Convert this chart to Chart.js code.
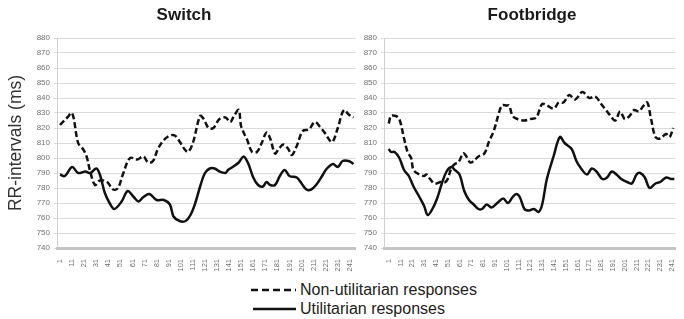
<!DOCTYPE html>
<html>
<head>
<meta charset="utf-8">
<script src="https://cdn.jsdelivr.net/npm/chart.js@4.4.1/dist/chart.umd.min.js"></script>
<style>
  html, body { margin: 0; padding: 0; background: #fff; }
  body { width: 684px; height: 319px; position: relative; overflow: hidden; font-family: "Liberation Sans", Arial, sans-serif; }
  canvas { position: absolute; top: 0; }
  .title { position: absolute; top: 5px; font-weight: bold; font-size: 17px; color: #1a1a1a; transform: translateX(-50%); white-space: nowrap; }
  .leg { position: absolute; font-size: 16px; color: #222; white-space: nowrap; line-height: 18px; }
  svg { position: absolute; }
</style>
</head>
<body>
<canvas id="c1" width="362" height="272" style="left:0px;width:362px;height:272px"></canvas>
<canvas id="c2" width="322" height="272" style="left:362px;width:322px;height:272px"></canvas>
<div class="title" style="left:184px">Switch</div>
<div class="title" style="left:532px">Footbridge</div>
<svg width="50" height="6" style="left:250px;top:287px"><line x1="1" y1="3" x2="46" y2="3" stroke="#111" stroke-width="2.5" stroke-dasharray="7,4"/></svg>
<div class="leg" style="left:300px;top:281px">Non-utilitarian responses</div>
<svg width="50" height="6" style="left:252px;top:306px"><line x1="1" y1="3" x2="44" y2="3" stroke="#111" stroke-width="2.5"/></svg>
<div class="leg" style="left:300px;top:300px">Utilitarian responses</div>
<script>
// ---- Data ----
const xTickLabels = [1, 11, 21, 31, 41, 51, 61, 71, 81, 91, 101, 111, 121, 131, 141, 151, 161, 171, 181, 191, 201, 211, 221, 231, 241];
const yTicks = [740, 750, 760, 770, 780, 790, 800, 810, 820, 830, 840, 850, 860, 870, 880];

const switchNonX = [1,7,11,16,20,23,26,30,34,40,45,49,53,59,65,70,74,78,82,87,92,96,100,104,107,111,117,120,124,128,133,138,142,145,149,151,156,160,164,168,172,175,179,182,186,190,193,197,202,207,212,216,220,225,227,231,236,240,244];
const switchNonY = [822,827,830,810,806,801,791,782,785,784,779,780,789,800,799,801,797,798,806,812,815,815,811,806,804,810,828,826,820,820,826,827,824,828,832,821,812,804,804,810,817,813,803,806,809,806,802,808,818,819,824,821,817,811,811,820,832,829,827];

const switchUtilX = [1,5,11,16,22,26,31,34,38,42,46,52,57,62,66,70,75,81,87,92,95,100,105,109,113,117,121,125,129,133,138,140,144,149,153,157,161,165,169,172,175,179,183,187,191,197,201,205,209,213,218,222,227,231,235,240,244];
const switchUtilY = [789,788,794,790,791,790,793,789,777,770,766,771,778,774,771,774,776,772,772,769,761,758,758,762,770,781,790,793,793,791,790,792,794,797,801,796,787,782,781,784,782,782,788,792,788,787,783,779,779,782,788,793,796,794,798,798,796];

const footNonX = [1,3,7,10,14,17,20,22,27,31,33,36,40,45,49,51,54,57,60,64,66,70,73,77,82,86,90,94,97,101,103,106,110,116,121,126,131,135,141,145,149,154,159,165,171,176,181,185,189,193,197,201,205,209,213,216,220,223,227,231,236,239,242];
const footNonY = [823,828,828,826,813,804,800,792,789,788,789,786,783,784,784,786,793,796,797,803,802,797,798,801,803,811,818,829,835,835,835,828,826,825,826,827,836,835,833,837,837,842,839,844,840,841,836,832,828,825,831,826,828,832,831,834,837,827,814,813,816,814,820];

const footUtilX = [1,3,6,10,14,18,22,27,31,34,38,42,46,50,54,57,61,65,69,73,77,80,84,88,93,98,102,106,109,112,116,120,124,128,131,135,141,146,150,156,160,164,169,173,177,182,186,190,194,198,203,207,211,214,218,222,227,231,236,240,243];
const footUtilY = [806,804,804,800,792,788,781,774,768,762,766,773,783,791,794,792,789,778,772,769,766,766,769,767,770,773,770,774,776,774,766,765,766,764,769,786,802,814,810,806,798,793,789,793,791,786,787,791,789,786,784,783,789,790,787,780,783,784,787,786,786];

const seriesNames = ['Non-utilitarian responses', 'Utilitarian responses'];

function pts(xs, ys) { return xs.map((x, i) => ({ x: x, y: ys[i] })); }

function makeChart(id, nonX, nonY, utilX, utilY, opts) {
  const ctx = document.getElementById(id).getContext('2d');
  return new Chart(ctx, {
    type: 'line',
    data: {
      datasets: [
        { label: seriesNames[0], data: pts(nonX, nonY), borderColor: '#111', borderWidth: 2.5, borderDash: [6, 3], pointRadius: 0, tension: 0.35, fill: false },
        { label: seriesNames[1], data: pts(utilX, utilY), borderColor: '#111', borderWidth: 2.5, pointRadius: 0, tension: 0.35, fill: false }
      ]
    },
    options: {
      responsive: false,
      animation: false,
      devicePixelRatio: 1,
      layout: { padding: { top: 38, right: opts.padRight, bottom: 0, left: 0 } },
      plugins: { legend: { display: false }, tooltip: { enabled: false }, title: { display: false } },
      scales: {
        x: {
          type: 'linear',
          min: opts.xmin, max: opts.xmax,
          afterBuildTicks: (s) => { s.ticks = xTickLabels.map(v => ({ value: v })); },
          afterFit: (s) => { s.height = 24; },
          grid: { display: false },
          border: { display: true, color: '#c4c4c4', width: 3 },
          ticks: { autoSkip: false, minRotation: 90, maxRotation: 90, padding: 3, color: '#707070', font: { size: 7.5, family: 'Liberation Sans' }, callback: (v) => String(v) }
        },
        y: {
          min: 740, max: 880,
          afterBuildTicks: (s) => { s.ticks = yTicks.map(v => ({ value: v })); },
          afterFit: (s) => { s.width = opts.yWidth; },
          grid: { color: '#dadada', lineWidth: 1, tickLength: 3, drawTicks: true },
          border: { display: true, color: '#cfcfcf', width: 1 },
          ticks: { padding: 4, color: '#707070', font: { size: 8, family: 'Liberation Sans' } },
          title: opts.yTitle ? { display: true, text: 'RR-intervals (ms)', color: '#333', font: { size: 17.5, family: 'Liberation Sans' }, padding: { top: 6, bottom: 0 } } : { display: false }
        }
      }
    }
  });
}

makeChart('c1', switchNonX, switchNonY, switchUtilX, switchUtilY, { xmin: -1.5, xmax: 246, padRight: 6, yWidth: 57, yTitle: true });
makeChart('c2', footNonX, footNonY, footUtilX, footUtilY, { xmin: -3, xmax: 244, padRight: 1, yWidth: 22, yTitle: false });
</script>
</body>
</html>
